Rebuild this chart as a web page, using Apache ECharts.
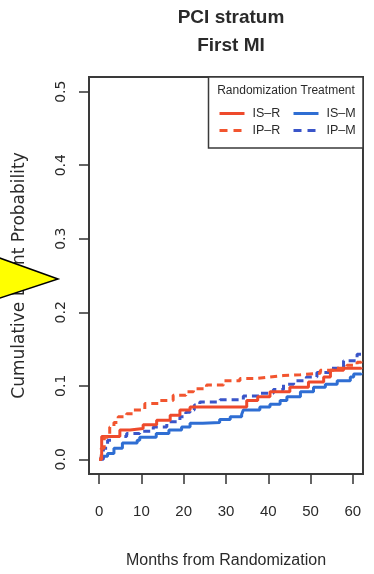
<!DOCTYPE html>
<html>
<head>
<meta charset="utf-8">
<script src="https://cdn.jsdelivr.net/npm/echarts@6/dist/echarts.min.js"></script>
<style>
html,body{margin:0;padding:0;background:#fff;}
#c{width:374px;height:574px;}
</style>
</head>
<body>
<div id="c"></div>
<script>
// Data (months, cumulative event probability)
var isR = [[0,0],[0.6,0.031],[4.9,0.040],[7.3,0.042],[10.4,0.047],[13.6,0.053],[16.8,0.060],[19.1,0.067],[21.5,0.071],[34.9,0.080],[37.5,0.085],[40.4,0.092],[45.1,0.098],[49.5,0.105],[53.1,0.112],[54.7,0.121],[57.8,0.124],[62,0.125]];
var isM = [[0,0],[0.5,0.004],[2,0.008],[3.5,0.015],[5.5,0.022],[9,0.026],[9.6,0.030],[13.5,0.035],[16.5,0.040],[19.5,0.044],[21.5,0.049],[24.5,0.050],[28.5,0.054],[31,0.058],[33.7,0.061],[34.1,0.067],[38,0.071],[40.4,0.075],[42.8,0.080],[44.4,0.085],[47.6,0.092],[50.7,0.098],[53.5,0.102],[56.3,0.107],[59.4,0.112],[60.2,0.116],[62,0.117]];
var ipR = [[0,0],[0.5,0.015],[1.2,0.030],[2.5,0.044],[3.5,0.050],[4.5,0.058],[6.5,0.062],[8.1,0.067],[10.8,0.076],[14.4,0.080],[17.5,0.087],[20.5,0.092],[22.3,0.096],[25.4,0.101],[29.4,0.107],[33.3,0.110],[37.3,0.112],[40.4,0.114],[43.6,0.115],[47.6,0.117],[52.3,0.121],[55.5,0.124],[58.6,0.128],[61,0.132],[62,0.133]];
var ipM = [[0,0],[1,0.015],[2,0.026],[3,0.031],[6.5,0.035],[9.6,0.038],[12.8,0.044],[16,0.051],[19.1,0.058],[20.5,0.064],[21.5,0.067],[22.5,0.074],[23.8,0.078],[28.6,0.081],[34.1,0.086],[38,0.090],[41.2,0.095],[43.6,0.102],[46,0.107],[49,0.112],[51.5,0.118],[54.7,0.124],[57.8,0.134],[61,0.143],[62,0.143]];
var seriesNames = ['IS\u2013R','IS\u2013M','IP\u2013R','IP\u2013M'];
var xTicks = [0,10,20,30,40,50,60];
var yTicks = [0,0.1,0.2,0.3,0.4,0.5];

var RED = '#ee4a2c', RED2 = '#f2552f', BLUE = '#2f6ed3', BLUE2 = '#3a55c9';
var TXT = '#2a2a2a';
var F = 'Liberation Sans, Arial, sans-serif';

var chart = echarts.init(document.getElementById('c'), null, {renderer:'canvas'});

function mkSeries(name, data, color, dashed){
  return {
    name: name, type: 'line', data: data, step: 'end',
    symbol: 'none', smooth: false,
    lineStyle: {color: color, width: 3, type: dashed ? [7,5] : 'solid'},
    itemStyle: {color: color},
    emphasis: {disabled: true}, silent: true, z: 3
  };
}
function mkLegend(name, left, top, dashed){
  return {
    data: [name], left: left, top: top, padding: 0,
    itemWidth: 25, itemHeight: 12, itemGap: 0,
    itemStyle: {color: 'transparent', borderWidth: 0, opacity: 0},
    lineStyle: {width: 3, type: dashed ? [8,6] : 'solid'},
    textStyle: {fontFamily: F, fontSize: 12.5, color: TXT, padding: [0,0,0,3]},
    selectedMode: false
  };
}

chart.setOption({
  animation: false,
  title: {
    text: 'PCI stratum\nFirst MI', left: 226, top: -1, textAlign: 'center',
    textStyle: {fontFamily: F, fontSize: 19, fontWeight: 'bold', color: TXT, lineHeight: 28}
  },
  grid: {left: 89, right: 11, top: 77, bottom: 96, show: true, borderColor: '#3a3a3a', borderWidth: 2, backgroundColor: 'transparent'},
  legend: [
    mkLegend(seriesNames[0], 218, 107, false),
    mkLegend(seriesNames[1], 292, 107, false),
    mkLegend(seriesNames[2], 218, 124, true),
    mkLegend(seriesNames[3], 292, 124, true)
  ],
  xAxis: {
    type: 'value', min: -2.4, max: 62.4,
    splitLine: {show: false},
    axisLine: {show: false, onZero: false},
    axisTick: {show: true, length: 10, lineStyle: {color: '#333', width: 1.5}, customValues: xTicks},
    axisLabel: {show: true, customValues: xTicks, margin: 30, fontFamily: F, fontSize: 15, color: TXT},
    name: 'Months from Randomization', nameLocation: 'middle', nameGap: 79,
    nameTextStyle: {fontFamily: F, fontSize: 16, color: TXT}
  },
  yAxis: {
    type: 'value', min: -0.02, max: 0.52,
    splitLine: {show: false},
    axisLine: {show: false, onZero: false},
    axisTick: {show: true, length: 10, lineStyle: {color: '#333', width: 1.5}, customValues: yTicks},
    axisLabel: {show: true, customValues: yTicks, rotate: 90, margin: 21,
      formatter: function(v){ return v.toFixed(1); },
      fontFamily: 'DejaVu Sans, sans-serif', fontSize: 14, color: TXT},
    name: 'Cumulative Event Probability', nameLocation: 'middle', nameGap: 61, nameRotate: 90,
    nameTextStyle: {fontFamily: 'DejaVu Sans, sans-serif', fontSize: 17, color: TXT}
  },
  series: [
    mkSeries(seriesNames[1], isM, BLUE, false),
    mkSeries(seriesNames[3], ipM, BLUE2, true),
    mkSeries(seriesNames[0], isR, RED, false),
    mkSeries(seriesNames[2], ipR, RED2, true)
  ],
  graphic: [
    {type: 'rect', shape: {x: 208.5, y: 77, width: 154.5, height: 71}, style: {fill: '#fff', stroke: '#3a3a3a', lineWidth: 1.5}, z: 1, zlevel: 0},
    {type: 'text', x: 286, y: 91, style: {text: 'Randomization Treatment', fontFamily: F, fontSize: 12, fill: TXT, align: 'center', verticalAlign: 'middle'}, z: 5},
    {type: 'polygon', shape: {points: [[-6,256],[58,279],[-6,300]]}, style: {fill: '#ffff00', stroke: '#000', lineWidth: 1.5}, z: 100}
  ]
});
</script>
</body>
</html>
